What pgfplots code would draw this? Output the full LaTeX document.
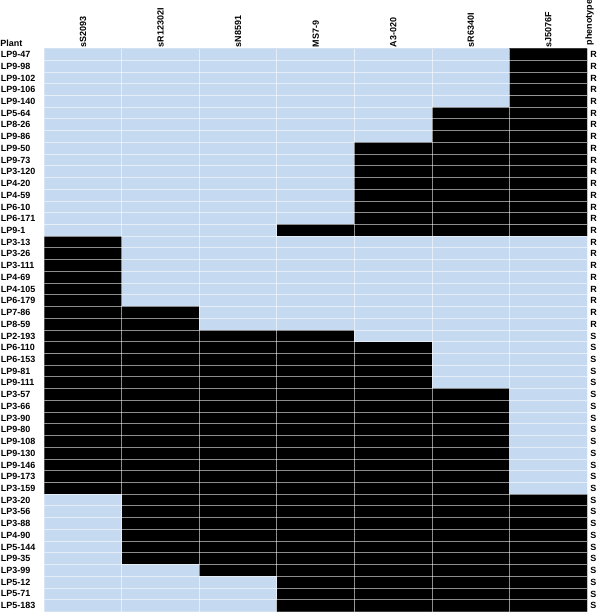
\documentclass[border=0pt]{standalone}
\usepackage{fontspec}
\setmainfont{Liberation Sans}
\usepackage{pgfplots}
\usepackage{pgfplotstable}
\pgfplotsset{compat=1.18}
\definecolor{lb}{HTML}{C5D9F1}

% plants and phenotype, top to bottom
\pgfplotstableread{
plant phen
LP9-47 R
LP9-98 R
LP9-102 R
LP9-106 R
LP9-140 R
LP5-64 R
LP8-26 R
LP9-86 R
LP9-50 R
LP9-73 R
LP3-120 R
LP4-20 R
LP4-59 R
LP6-10 R
LP6-171 R
LP9-1 R
LP3-13 R
LP3-26 R
LP3-111 R
LP4-69 R
LP4-105 R
LP6-179 R
LP7-86 R
LP8-59 R
LP2-193 S
LP6-110 S
LP6-153 S
LP9-81 S
LP9-111 S
LP3-57 S
LP3-66 S
LP3-90 S
LP9-80 S
LP9-108 S
LP9-130 S
LP9-146 S
LP9-173 S
LP3-159 S
LP3-20 S
LP3-56 S
LP3-88 S
LP4-90 S
LP5-144 S
LP9-35 S
LP3-99 S
LP5-12 S
LP5-71 S
LP5-183 S
}\plants

% genotype: x = marker, y = plant row, c = 1 black / 0 light
\pgfplotstableread[row sep=\\]{
x y c\\
0 0 0\\1 0 0\\2 0 0\\3 0 0\\4 0 0\\5 0 0\\6 0 1\\
0 1 0\\1 1 0\\2 1 0\\3 1 0\\4 1 0\\5 1 0\\6 1 1\\
0 2 0\\1 2 0\\2 2 0\\3 2 0\\4 2 0\\5 2 0\\6 2 1\\
0 3 0\\1 3 0\\2 3 0\\3 3 0\\4 3 0\\5 3 0\\6 3 1\\
0 4 0\\1 4 0\\2 4 0\\3 4 0\\4 4 0\\5 4 0\\6 4 1\\
0 5 0\\1 5 0\\2 5 0\\3 5 0\\4 5 0\\5 5 1\\6 5 1\\
0 6 0\\1 6 0\\2 6 0\\3 6 0\\4 6 0\\5 6 1\\6 6 1\\
0 7 0\\1 7 0\\2 7 0\\3 7 0\\4 7 0\\5 7 1\\6 7 1\\
0 8 0\\1 8 0\\2 8 0\\3 8 0\\4 8 1\\5 8 1\\6 8 1\\
0 9 0\\1 9 0\\2 9 0\\3 9 0\\4 9 1\\5 9 1\\6 9 1\\
0 10 0\\1 10 0\\2 10 0\\3 10 0\\4 10 1\\5 10 1\\6 10 1\\
0 11 0\\1 11 0\\2 11 0\\3 11 0\\4 11 1\\5 11 1\\6 11 1\\
0 12 0\\1 12 0\\2 12 0\\3 12 0\\4 12 1\\5 12 1\\6 12 1\\
0 13 0\\1 13 0\\2 13 0\\3 13 0\\4 13 1\\5 13 1\\6 13 1\\
0 14 0\\1 14 0\\2 14 0\\3 14 0\\4 14 1\\5 14 1\\6 14 1\\
0 15 0\\1 15 0\\2 15 0\\3 15 1\\4 15 1\\5 15 1\\6 15 1\\
0 16 1\\1 16 0\\2 16 0\\3 16 0\\4 16 0\\5 16 0\\6 16 0\\
0 17 1\\1 17 0\\2 17 0\\3 17 0\\4 17 0\\5 17 0\\6 17 0\\
0 18 1\\1 18 0\\2 18 0\\3 18 0\\4 18 0\\5 18 0\\6 18 0\\
0 19 1\\1 19 0\\2 19 0\\3 19 0\\4 19 0\\5 19 0\\6 19 0\\
0 20 1\\1 20 0\\2 20 0\\3 20 0\\4 20 0\\5 20 0\\6 20 0\\
0 21 1\\1 21 0\\2 21 0\\3 21 0\\4 21 0\\5 21 0\\6 21 0\\
0 22 1\\1 22 1\\2 22 0\\3 22 0\\4 22 0\\5 22 0\\6 22 0\\
0 23 1\\1 23 1\\2 23 0\\3 23 0\\4 23 0\\5 23 0\\6 23 0\\
0 24 1\\1 24 1\\2 24 1\\3 24 1\\4 24 0\\5 24 0\\6 24 0\\
0 25 1\\1 25 1\\2 25 1\\3 25 1\\4 25 1\\5 25 0\\6 25 0\\
0 26 1\\1 26 1\\2 26 1\\3 26 1\\4 26 1\\5 26 0\\6 26 0\\
0 27 1\\1 27 1\\2 27 1\\3 27 1\\4 27 1\\5 27 0\\6 27 0\\
0 28 1\\1 28 1\\2 28 1\\3 28 1\\4 28 1\\5 28 0\\6 28 0\\
0 29 1\\1 29 1\\2 29 1\\3 29 1\\4 29 1\\5 29 1\\6 29 0\\
0 30 1\\1 30 1\\2 30 1\\3 30 1\\4 30 1\\5 30 1\\6 30 0\\
0 31 1\\1 31 1\\2 31 1\\3 31 1\\4 31 1\\5 31 1\\6 31 0\\
0 32 1\\1 32 1\\2 32 1\\3 32 1\\4 32 1\\5 32 1\\6 32 0\\
0 33 1\\1 33 1\\2 33 1\\3 33 1\\4 33 1\\5 33 1\\6 33 0\\
0 34 1\\1 34 1\\2 34 1\\3 34 1\\4 34 1\\5 34 1\\6 34 0\\
0 35 1\\1 35 1\\2 35 1\\3 35 1\\4 35 1\\5 35 1\\6 35 0\\
0 36 1\\1 36 1\\2 36 1\\3 36 1\\4 36 1\\5 36 1\\6 36 0\\
0 37 1\\1 37 1\\2 37 1\\3 37 1\\4 37 1\\5 37 1\\6 37 0\\
0 38 0\\1 38 1\\2 38 1\\3 38 1\\4 38 1\\5 38 1\\6 38 1\\
0 39 0\\1 39 1\\2 39 1\\3 39 1\\4 39 1\\5 39 1\\6 39 1\\
0 40 0\\1 40 1\\2 40 1\\3 40 1\\4 40 1\\5 40 1\\6 40 1\\
0 41 0\\1 41 1\\2 41 1\\3 41 1\\4 41 1\\5 41 1\\6 41 1\\
0 42 0\\1 42 1\\2 42 1\\3 42 1\\4 42 1\\5 42 1\\6 42 1\\
0 43 0\\1 43 1\\2 43 1\\3 43 1\\4 43 1\\5 43 1\\6 43 1\\
0 44 0\\1 44 0\\2 44 1\\3 44 1\\4 44 1\\5 44 1\\6 44 1\\
0 45 0\\1 45 0\\2 45 0\\3 45 1\\4 45 1\\5 45 1\\6 45 1\\
0 46 0\\1 46 0\\2 46 0\\3 46 1\\4 46 1\\5 46 1\\6 46 1\\
0 47 0\\1 47 0\\2 47 0\\3 47 1\\4 47 1\\5 47 1\\6 47 1\\
}\geno

\pgfplotsset{
  heat/.style={
    scale only axis, width=542bp, height=562bp,
    xmin=-0.5, xmax=6.5, ymin=-0.5, ymax=47.5, y dir=reverse,
    axis line style={draw=none}, major tick length=0, minor tick length=0,
    ytick={0,...,47},
  },
}

\begin{document}
\begin{tikzpicture}
\begin{axis}[heat, name=main,
  xtick={0,...,6},
  xticklabels={sS2093,sR12302I,sN8591,MS7-9,A3-020,sR6340I,sJ5076F},
  xticklabel pos=right,
  xticklabel style={rotate=90, anchor=west, font=\fontsize{9}{10}\selectfont\bfseries, inner sep=1bp},
  yticklabels from table={\plants}{plant},
  yticklabel style={font=\fontsize{9}{10}\selectfont\bfseries, text width=42bp, align=left, inner xsep=1bp, inner ysep=0pt},
  minor xtick={0.5,1.5,...,5.5},
  minor ytick={0.5,1.5,...,46.5},
  xminorgrids, yminorgrids,
  minor grid style={white, opacity=0.55, line width=1bp},
  axis on top,
  colormap={geno}{color(0)=(lb) color(1)=(black)},
  point meta min=0, point meta max=1,
]
\addplot[matrix plot*, mesh/cols=7, point meta=explicit] table[x=x, y=y, meta=c] {\geno};
\end{axis}
\begin{axis}[heat,
  xtick=\empty,
  yticklabel pos=right,
  yticklabels from table={\plants}{phen},
  yticklabel style={font=\fontsize{9}{10}\selectfont\bfseries, anchor=west, inner xsep=3bp, inner ysep=0pt},
]
\end{axis}
\node[anchor=south west, inner sep=0pt, font=\fontsize{9}{10}\selectfont\bfseries, xshift=-44bp, yshift=2bp] at (main.north west) {Plant};
\node[rotate=90, anchor=north west, inner sep=0pt, font=\fontsize{9}{10}\selectfont\bfseries, xshift=3bp, yshift=2bp] at (main.north east) {phenotype};
\end{tikzpicture}
\end{document}
